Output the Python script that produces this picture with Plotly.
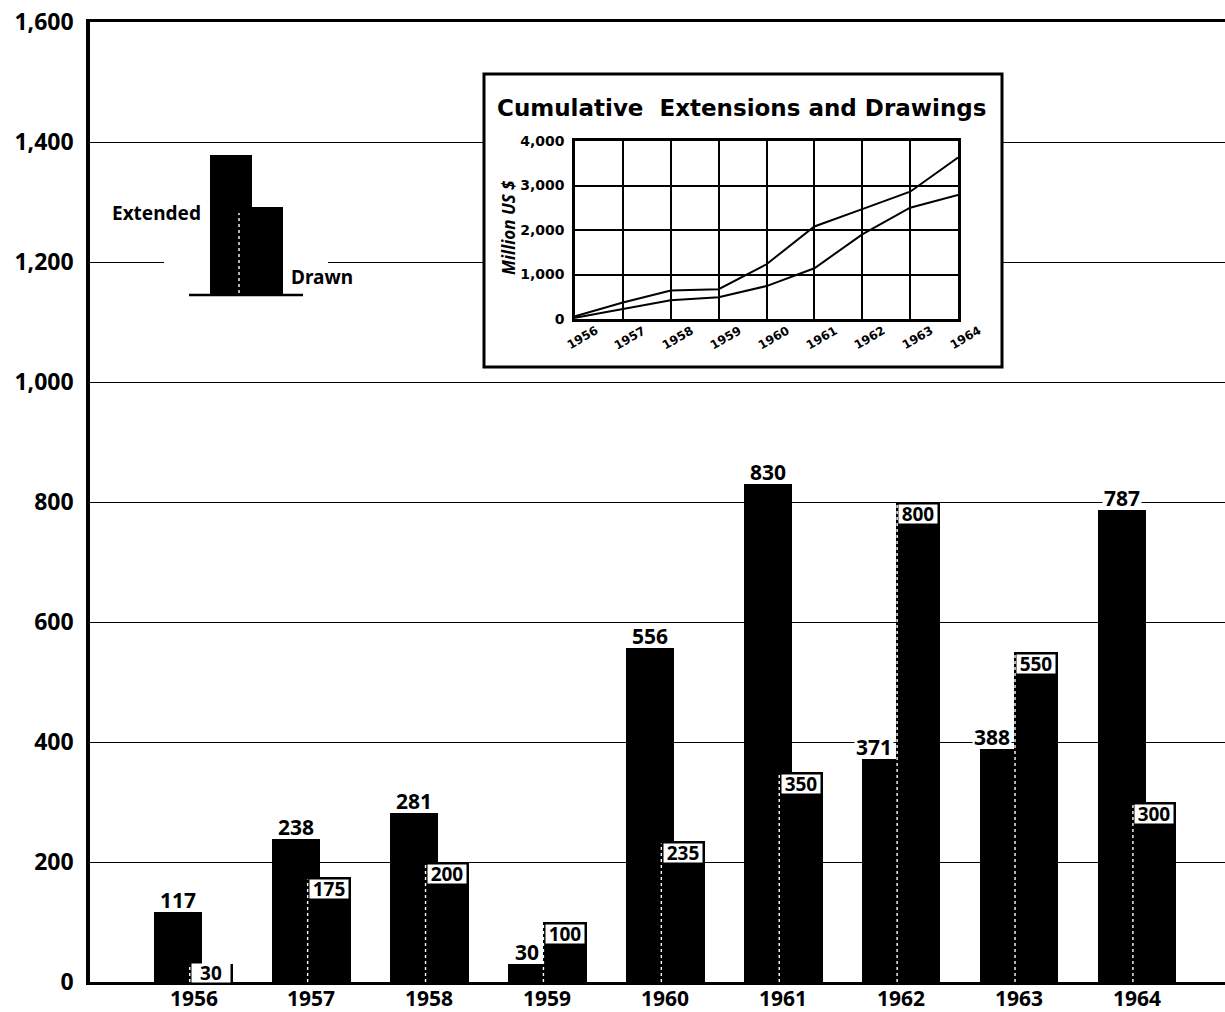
import plotly.graph_objects as go

# ---- data -------------------------------------------------------------
years = [1956, 1957, 1958, 1959, 1960, 1961, 1962, 1963, 1964]
extended = [117, 238, 281, 30, 556, 830, 371, 388, 787]
drawn = [30, 175, 200, 100, 235, 350, 800, 550, 300]

# cumulative totals shown in the inset panel
cum_extended = [60, 370, 640, 670, 1230, 2080, 2470, 2860, 3630]
cum_drawn = [30, 220, 420, 490, 740, 1140, 1900, 2500, 2790]

y_ticks = [0, 200, 400, 600, 800, 1000, 1200, 1400, 1600]
inset_y_ticks = [0, 1000, 2000, 3000, 4000]

# ---- page geometry (pixels) ------------------------------------------
W, H = 1225, 1012
L, R, T, B = 90, 0, 22, 30
PW, PH = W - L - R, H - T - B
X0, X1 = 1955.122, 1964.749
FONT = "Noto Sans"
WIDE = "DejaVu Sans"

EXT_OFF, EXT_W = -0.331, 0.407
DRW_OFF, DRW_W = -0.038, 0.373


def fx(x):  # pixel -> paper x
    return (x - L) / PW


def fy(y):  # pixel -> paper y
    return (H - B - y) / PH


def dx(x):  # pixel -> data x
    return X0 + (x - L) / PW * (X1 - X0)


def dy(y):  # pixel -> data y
    return (H - B - y) / PH * 1600


fig = go.Figure()

fig.add_trace(go.Bar(x=years, y=extended, offset=EXT_OFF, width=EXT_W,
                     marker=dict(color="black", line=dict(width=0)),
                     name="Extended", showlegend=False))
fig.add_trace(go.Bar(x=years, y=drawn, offset=DRW_OFF, width=DRW_W,
                     marker=dict(color="black", line=dict(width=0)),
                     name="Drawn", showlegend=False))

# thin white dotted edge on the left side of each "drawn" bar
ex, ey = [], []
for yr, v in zip(years, drawn):
    ex += [yr + DRW_OFF + 0.006, yr + DRW_OFF + 0.006, None]
    ey += [0, v - 4, None]
fig.add_trace(go.Scatter(x=ex, y=ey, mode="lines", hoverinfo="skip",
                         line=dict(color="white", width=1.4, dash="dot"),
                         showlegend=False))

# inset: cumulative lines
fig.add_trace(go.Scatter(x=years, y=cum_extended, mode="lines", xaxis="x2", yaxis="y2",
                         line=dict(color="black", width=2), showlegend=False))
fig.add_trace(go.Scatter(x=years, y=cum_drawn, mode="lines", xaxis="x2", yaxis="y2",
                         line=dict(color="black", width=2), showlegend=False))

annotations = []

# year labels under the main axis
for yr in years:
    annotations.append(dict(x=yr, y=fy(998), xref="x", yref="paper", text=str(yr),
                            showarrow=False, xanchor="center", yanchor="middle",
                            font=dict(family=FONT, size=21, color="black", weight=700)))

# value labels above the "extended" bars
for yr, e, d in zip(years, extended, drawn):
    if d > e:
        ax_, anchor, xs = yr + DRW_OFF, "right", -2
    else:
        ax_, anchor, xs = yr + EXT_OFF + EXT_W / 2, "center", 0
    annotations.append(dict(x=ax_, y=e, xref="x", yref="y", text=str(e),
                            showarrow=False, xanchor=anchor, yanchor="bottom",
                            xshift=xs, yshift=1, height=18, bgcolor="white", borderpad=1,
                            font=dict(family=FONT, size=21, color="black", weight=700)))

# value labels inside the "drawn" bars (white boxes)
for yr, d in zip(years, drawn):
    annotations.append(dict(x=yr + DRW_OFF + DRW_W / 2, y=max(d - 20, 15), xref="x", yref="y",
                            text=str(d), showarrow=False, xanchor="center", yanchor="middle",
                            width=38, height=18, bgcolor="white", borderpad=0,
                            font=dict(family=FONT, size=19, color="black", weight=700)))

# legend key
annotations.append(dict(x=fx(203), y=fy(213), xref="paper", yref="paper", text="Extended",
                        showarrow=False, xanchor="right", yanchor="middle",
                        font=dict(family=FONT, size=19, color="black", weight=700)))
annotations.append(dict(x=fx(289), y=fy(277), xref="paper", yref="paper", text="Drawn",
                        showarrow=False, xanchor="left", yanchor="middle",
                        font=dict(family=FONT, size=19, color="black", weight=700)))

# inset title and axis captions
annotations.append(dict(x=fx(741), y=fy(108), xref="paper", yref="paper",
                        text="Cumulative  Extensions and Drawings", showarrow=False,
                        xanchor="center", yanchor="middle",
                        font=dict(family=WIDE, size=23, color="black", weight=700)))
annotations.append(dict(x=fx(508), y=fy(228), xref="paper", yref="paper",
                        text="Million US $", showarrow=False, textangle=-90,
                        xanchor="center", yanchor="middle",
                        font=dict(family=FONT, size=17, color="black", weight=700, style="italic")))
for yr in years:
    annotations.append(dict(x=yr, y=0, xref="x2", yref="y2", text=str(yr), showarrow=False,
                            textangle=-30, xanchor="center", yanchor="middle",
                            xshift=7, yshift=-19,
                            font=dict(family=WIDE, size=12, color="black", weight=700)))

shapes = [
    # white panels that interrupt the grid behind the key and the inset
    dict(type="rect", xref="x", yref="y", x0=dx(164), x1=dx(328), y0=dy(300), y1=dy(150),
         fillcolor="white", line=dict(width=0), layer="between"),
    dict(type="rect", xref="x", yref="y", x0=dx(484), x1=dx(1002), y0=dy(367), y1=dy(74),
         fillcolor="white", line=dict(color="black", width=3), layer="between"),
    # legend key bars
    dict(type="rect", xref="paper", yref="paper", x0=fx(210), x1=fx(252), y0=fy(295), y1=fy(155),
         fillcolor="black", line=dict(width=0)),
    dict(type="rect", xref="paper", yref="paper", x0=fx(238), x1=fx(283), y0=fy(295), y1=fy(207),
         fillcolor="black", line=dict(width=0)),
    dict(type="line", xref="paper", yref="paper", x0=fx(239), x1=fx(239), y0=fy(293), y1=fy(213),
         line=dict(color="white", width=1.4, dash="dot")),
    dict(type="line", xref="paper", yref="paper", x0=fx(189), x1=fx(303), y0=fy(295), y1=fy(295),
         line=dict(color="black", width=2.5)),
]

fig.update_layout(
    width=W, height=H,
    margin=dict(l=L, r=R, t=T, b=B, autoexpand=False),
    paper_bgcolor="white", plot_bgcolor="white",
    barmode="overlay", bargap=0,
    showlegend=False,
    annotations=annotations,
    shapes=shapes,
    xaxis=dict(range=[X0, X1], showticklabels=False,
               showgrid=False, zeroline=False, ticks="", automargin=False,
               showline=True, linecolor="black", linewidth=3, mirror=True),
    yaxis=dict(range=[0, 1600], tickvals=y_ticks, tickformat=",", automargin=False,
               showgrid=True, gridcolor="black", gridwidth=1.3, zeroline=False, ticks="",
               showline=True, linecolor="black", linewidth=3.5,
               tickfont=dict(family=FONT, size=23, color="black", weight=700),
               ticklabelstandoff=8),
    xaxis2=dict(domain=[fx(575), fx(958)], anchor="y2", range=[1956, 1964], dtick=1,
                showgrid=True, gridcolor="black", gridwidth=1.5, zeroline=False,
                showticklabels=False, ticks="", automargin=False,
                showline=True, linecolor="black", linewidth=2.5, mirror=True),
    yaxis2=dict(domain=[fy(319), fy(141)], anchor="x2", range=[0, 4000], tickvals=inset_y_ticks,
                tickformat=",", showgrid=True, gridcolor="black", gridwidth=1.5, zeroline=False,
                ticks="", showline=True, linecolor="black", linewidth=2.5, mirror=True,
                automargin=False,
                tickfont=dict(family=WIDE, size=14, color="black", weight=700),
                ticklabelstandoff=5),
)

fig.write_html("out.html")
